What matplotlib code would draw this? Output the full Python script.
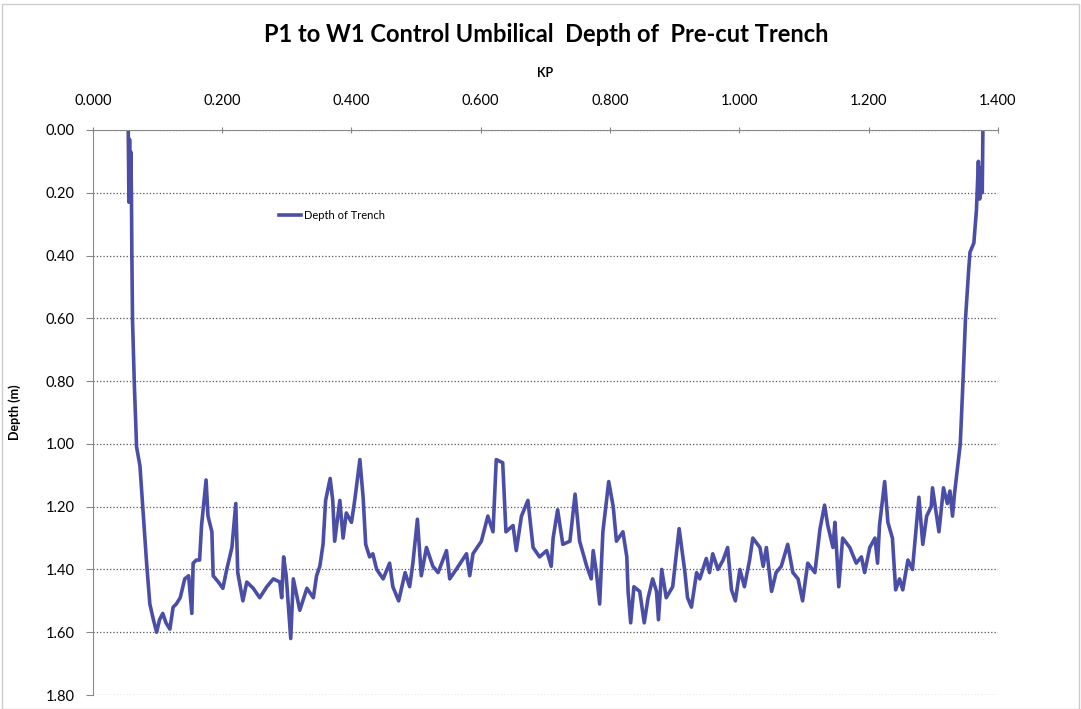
import numpy as np
import matplotlib.pyplot as plt
from matplotlib.patches import Rectangle

plt.rcParams['font.family'] = ['Lato', 'DejaVu Sans']

# KP (km) and trench depth (m)
kp = [0.0546, 0.0556, 0.0566, 0.0576, 0.0586, 0.0596, 0.0602, 0.0612, 0.0640, 0.0675,
      0.0727, 0.0780, 0.0830, 0.0880, 0.0935, 0.0985, 0.1030, 0.1080, 0.1130, 0.1190,
      0.1240, 0.1290, 0.1350, 0.1420, 0.1480, 0.1530, 0.1550, 0.1600, 0.1650, 0.1680,
      0.1750, 0.1780, 0.1840, 0.1860, 0.1940, 0.2010, 0.2070, 0.2150, 0.2210, 0.2240,
      0.2320, 0.2380, 0.2480, 0.2580, 0.2690, 0.2790, 0.2890, 0.2920, 0.2950, 0.2990,
      0.3060, 0.3100, 0.3200, 0.3310, 0.3410, 0.3460, 0.3510, 0.3560, 0.3600, 0.3670,
      0.3710, 0.3740, 0.3820, 0.3870, 0.3920, 0.4000, 0.4050, 0.4130, 0.4180, 0.4220,
      0.4280, 0.4330, 0.4390, 0.4490, 0.4590, 0.4640, 0.4730, 0.4830, 0.4900, 0.4950,
      0.5020, 0.5080, 0.5160, 0.5260, 0.5340, 0.5470, 0.5520, 0.5620, 0.5780, 0.5830,
      0.5880, 0.6010, 0.6110, 0.6190, 0.6240, 0.6340, 0.6390, 0.6500, 0.6550, 0.6630,
      0.6730, 0.6810, 0.6910, 0.7020, 0.7090, 0.7120, 0.7190, 0.7270, 0.7380, 0.7460,
      0.7530, 0.7640, 0.7710, 0.7740, 0.7790, 0.7840, 0.7890, 0.7980, 0.8050, 0.8100,
      0.8200, 0.8260, 0.8280, 0.8320, 0.8370, 0.8460, 0.8530, 0.8590, 0.8660, 0.8720,
      0.8750, 0.8800, 0.8870, 0.8970, 0.9070, 0.9160, 0.9200, 0.9260, 0.9340, 0.9390,
      0.9490, 0.9540, 0.9590, 0.9670, 0.9750, 0.9820, 0.9880, 0.9940, 1.0010, 1.0080,
      1.0160, 1.0210, 1.0320, 1.0370, 1.0420, 1.0500, 1.0570, 1.0650, 1.0750, 1.0830,
      1.0910, 1.0980, 1.1060, 1.1170, 1.1250, 1.1320, 1.1370, 1.1450, 1.1480, 1.1540,
      1.1600, 1.1710, 1.1810, 1.1890, 1.1940, 1.2020, 1.2100, 1.2140, 1.2170, 1.2250,
      1.2300, 1.2370, 1.2420, 1.2480, 1.2530, 1.2610, 1.2680, 1.2710, 1.2780, 1.2840,
      1.2900, 1.2970, 1.2990, 1.3090, 1.3160, 1.3220, 1.3260, 1.3300, 1.3330, 1.3380,
      1.3420, 1.3460, 1.3500, 1.3550, 1.3570, 1.3630, 1.3670, 1.3700, 1.3720, 1.3740, 1.3760, 1.3770]

depth = [0.00, 0.23, 0.03, 0.20, 0.07, 0.22, 0.40, 0.605, 0.81, 1.01,
         1.07, 1.23, 1.38, 1.51, 1.56, 1.60, 1.56, 1.54, 1.57, 1.59,
         1.52, 1.51, 1.49, 1.43, 1.42, 1.54, 1.38, 1.37, 1.37, 1.26,
         1.115, 1.23, 1.28, 1.42, 1.44, 1.46, 1.40, 1.33, 1.19, 1.41,
         1.50, 1.44, 1.46, 1.49, 1.455, 1.43, 1.44, 1.49, 1.36, 1.42,
         1.62, 1.43, 1.53, 1.46, 1.49, 1.42, 1.39, 1.32, 1.18, 1.11,
         1.18, 1.31, 1.18, 1.30, 1.22, 1.25, 1.18, 1.05, 1.17, 1.32,
         1.36, 1.35, 1.40, 1.43, 1.38, 1.455, 1.50, 1.41, 1.455, 1.38,
         1.24, 1.42, 1.33, 1.39, 1.41, 1.34, 1.43, 1.40, 1.35, 1.42,
         1.35, 1.31, 1.23, 1.28, 1.05, 1.06, 1.28, 1.26, 1.34, 1.23,
         1.18, 1.33, 1.36, 1.34, 1.39, 1.30, 1.21, 1.32, 1.31, 1.16,
         1.31, 1.39, 1.43, 1.34, 1.41, 1.51, 1.28, 1.12, 1.20, 1.31,
         1.28, 1.36, 1.47, 1.57, 1.455, 1.47, 1.57, 1.49, 1.43, 1.47,
         1.56, 1.40, 1.49, 1.455, 1.27, 1.41, 1.49, 1.52, 1.41, 1.43,
         1.365, 1.41, 1.35, 1.40, 1.37, 1.33, 1.465, 1.50, 1.40, 1.455,
         1.37, 1.30, 1.33, 1.39, 1.33, 1.47, 1.41, 1.39, 1.32, 1.41,
         1.43, 1.50, 1.38, 1.41, 1.27, 1.195, 1.26, 1.33, 1.25, 1.455,
         1.30, 1.33, 1.38, 1.36, 1.41, 1.33, 1.30, 1.38, 1.26, 1.12,
         1.25, 1.30, 1.465, 1.43, 1.465, 1.37, 1.40, 1.33, 1.17, 1.32,
         1.23, 1.20, 1.14, 1.28, 1.14, 1.19, 1.15, 1.23, 1.16, 1.07,
         1.00, 0.81, 0.605, 0.445, 0.39, 0.36, 0.255, 0.10, 0.22, 0.12, 0.20, 0.00]

x_ticks = [0.0, 0.2, 0.4, 0.6, 0.8, 1.0, 1.2, 1.4]
y_ticks = [0.0, 0.2, 0.4, 0.6, 0.8, 1.0, 1.2, 1.4, 1.6, 1.8]

fig = plt.figure(figsize=(10.81, 7.09), dpi=100)
ax = fig.add_axes([0.086, 0.0197, 0.837, 0.797])

ax.plot(kp, depth, color='#4b4ea6', lw=2.6, label='Depth of Trench')

ax.set_xlim(0, 1.4)
ax.set_ylim(1.8, 0)
ax.xaxis.tick_top()
ax.xaxis.set_label_position('top')
ax.set_xticks(x_ticks)
ax.set_xticklabels(['%.3f' % v for v in x_ticks])
ax.set_yticks(y_ticks)
ax.set_yticklabels(['%.2f' % v for v in y_ticks])
ax.tick_params(axis='x', labelsize=10.5, length=4, pad=14, color='#888888', direction='inout')
ax.tick_params(axis='y', labelsize=10.5, length=5, pad=8, color='#888888')

ax.grid(axis='y', ls=':', color='#555555', lw=0.9)
for s in ['right', 'bottom']:
    ax.spines[s].set_visible(False)
for s in ['left', 'top']:
    ax.spines[s].set_color('#8a8a8a')

ax.set_xlabel('KP', fontsize=9, fontweight='bold', labelpad=12)
ax.set_ylabel('Depth (m)', fontsize=9, fontweight='bold', labelpad=18)

fig.suptitle('P1 to W1 Control Umbilical  Depth of  Pre-cut Trench', fontsize=17,
             fontweight='bold', x=0.505, y=0.967)

ax.legend(loc='center left', bbox_to_anchor=(0.2, 0.848), frameon=False,
          fontsize=8, handlelength=1.9, handletextpad=0.3, borderpad=0)

fig.patches.append(Rectangle((0.002, 0.0), 0.996, 0.995, transform=fig.transFigure,
                             fill=False, edgecolor='#cccccc', lw=1))

plt.savefig('out.png', dpi=100)
